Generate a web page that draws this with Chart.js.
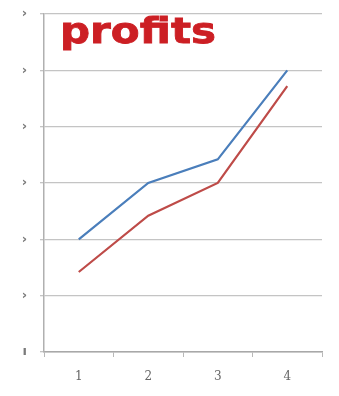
<!DOCTYPE html>
<html>
<head>
<meta charset="utf-8">
<script src="https://cdn.jsdelivr.net/npm/chart.js@4/dist/chart.umd.min.js"></script>
<style>
  html, body { margin: 0; padding: 0; background: #fff; }
  #wrap { width: 339px; height: 396px; position: relative; }
</style>
</head>
<body>
<div id="wrap"><canvas id="profitChart"></canvas></div>
<script>
var categories = ["1", "2", "3", "4"]
var seriesBlue = [2, 3, 3.42, 5]
var seriesRed = [1.42, 2.42, 3, 4.72]
var yTickLabels = ["ı", "›", "›", "›", "›", "›", "›"]
var chartTitle = "profits"

// draws the big red word in the upper left of the plot
var titlePlugin = {
    id: "insideTitle",
    afterDraw: function (chart) {
        var ctx = chart.ctx
        var area = chart.chartArea
        ctx.save()
        ctx.font = "bold 36px 'DejaVu Sans', sans-serif"
        ctx.fillStyle = "#cc1f24"
        ctx.strokeStyle = "#cc1f24"
        ctx.lineWidth = 0.8
        ctx.textBaseline = "alphabetic"
        var w = ctx.measureText(chartTitle).width
        var sx = 156 / w  // stretch a bit, the original face is wider
        ctx.translate(area.left + 16, area.top + 29)
        ctx.scale(sx, 1)
        ctx.fillText(chartTitle, 0, 0)
        ctx.strokeText(chartTitle, 0, 0)
        ctx.restore()
    }
}

new Chart(document.getElementById("profitChart").getContext("2d"), {
    type: "line",
    data: {
        labels: categories,
        datasets: [
            {
                label: "blue",
                data: seriesBlue,
                borderColor: "#4a7ebb",
                borderWidth: 2.2,
                pointRadius: 0,
                tension: 0,
                fill: false
            },
            {
                label: "red",
                data: seriesRed,
                borderColor: "#be4b48",
                borderWidth: 2.2,
                pointRadius: 0,
                tension: 0,
                fill: false
            }
        ]
    },
    options: {
        responsive: true,
        maintainAspectRatio: false,
        animation: false,
        layout: { padding: { top: 14, right: 17, left: 0, bottom: 0 } },
        plugins: {
            legend: { display: false },
            title: { display: false },
            tooltip: { enabled: false }
        },
        scales: {
            x: {
                offset: true,
                grid: {
                    offset: true,
                    drawOnChartArea: false,
                    color: "#b8b8b8",
                    tickLength: 5
                },
                border: { color: "#a8a8a8", width: 1.5 },
                ticks: {
                    color: "#666",
                    padding: 13,
                    font: { family: "'DejaVu Serif', serif", size: 12 }
                },
                afterFit: function (scale) {
                    scale.height = 44
                    scale.paddingLeft = 0
                    scale.paddingRight = 0
                }
            },
            y: {
                min: 0,
                max: 6,
                ticks: {
                    stepSize: 1,
                    color: "#7a7a7a",
                    padding: 13,
                    font: { family: "'DejaVu Sans', sans-serif", size: 13, weight: "bold" },
                    callback: function (value) { return yTickLabels[value] }
                },
                grid: {
                    color: "#c4c4c4",
                    lineWidth: 1.3,
                    tickLength: 4
                },
                border: { color: "#b0b0b0", width: 1.5 },
                afterFit: function (scale) {
                    scale.width = 44
                    scale.paddingTop = 0
                    scale.paddingBottom = 0
                }
            }
        }
    },
    plugins: [titlePlugin]
})
</script>
</body>
</html>
